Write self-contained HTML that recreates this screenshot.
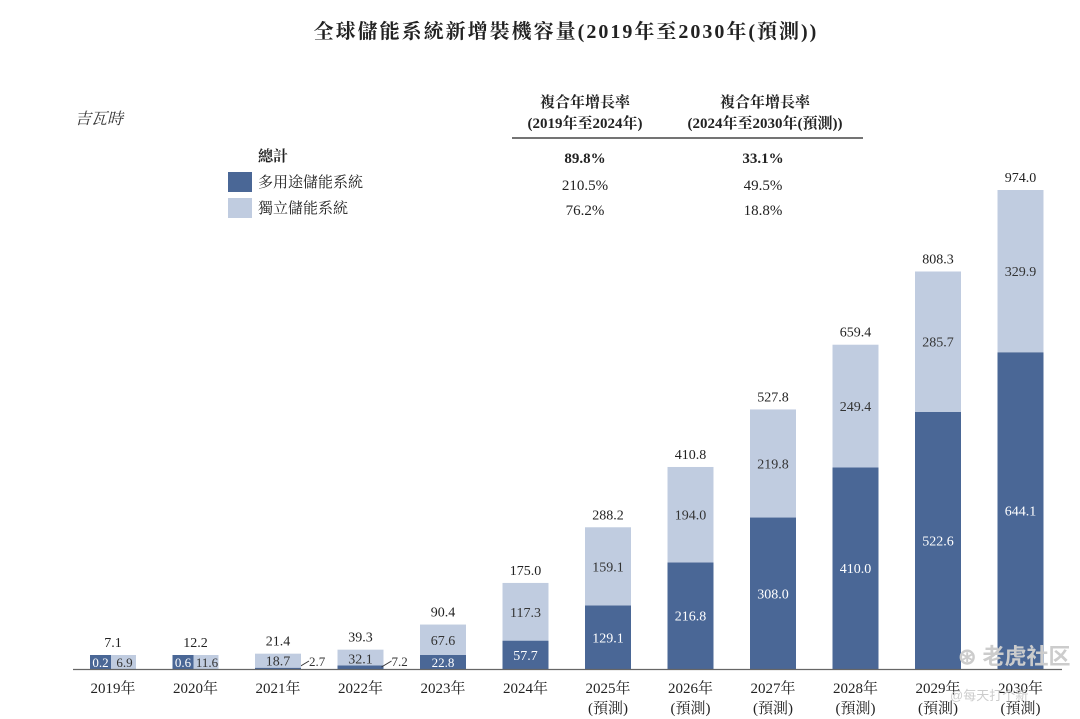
<!DOCTYPE html>
<html><head><meta charset="utf-8">
<style>
body{margin:0;background:#fff;}
svg{display:block;font-family:"Liberation Serif","Noto Serif CJK SC",serif;}
</style></head>
<body>
<svg id="c" width="1080" height="719" viewBox="0 0 1080 719">
<text x="566" y="38" text-anchor="middle" font-size="20" font-weight="bold" fill="#222" letter-spacing="2">全球儲能系統新增裝機容量(2019年至2030年(預測))</text>
<text x="75" y="124" font-size="16" font-style="italic" fill="#333">吉瓦時</text>
<g font-size="15" fill="#222" text-anchor="middle">
<text x="585" y="107" font-weight="bold">複合年增長率</text>
<text x="585" y="128" font-weight="bold">(2019年至2024年)</text>
<text x="765" y="107" font-weight="bold">複合年增長率</text>
<text x="765" y="128" font-weight="bold">(2024年至2030年(預測))</text>
<line x1="512" y1="138" x2="863" y2="138" stroke="#222" stroke-width="1.3"/>
<text x="585" y="163" font-weight="bold">89.8%</text>
<text x="763" y="163" font-weight="bold">33.1%</text>
<text x="585" y="190">210.5%</text>
<text x="763" y="190">49.5%</text>
<text x="585" y="215">76.2%</text>
<text x="763" y="215">18.8%</text>
</g>
<g font-size="15" fill="#222">
<text x="258" y="161" font-weight="bold">總計</text>
<rect x="228" y="172" width="24" height="20" fill="#4a6796"/>
<text x="258" y="187">多用途儲能系統</text>
<rect x="228" y="198" width="24" height="20" fill="#c0cce0"/>
<text x="258" y="213">獨立儲能系統</text>
</g>
<g id="bars"></g>
<line x1="73" y1="669.5" x2="1062" y2="669.5" stroke="#666" stroke-width="1.2"/>
<g id="xl"></g>
<text x="958" y="664" font-size="22" fill="#ccc" font-family="Liberation Sans,Noto Sans CJK SC,sans-serif" font-weight="bold">⊛ 老虎社区</text>
<text x="950" y="700" font-size="13" fill="#ccc" font-family="Liberation Sans,Noto Sans CJK SC,sans-serif">@每天打个新</text>
</svg>
<script>
const years=["2019年","2020年","2021年","2022年","2023年","2024年","2025年","2026年","2027年","2028年","2029年","2030年"];
const forecast=[false,false,false,false,false,false,true,true,true,true,true,true];
const multi=[0.2,0.6,2.7,7.2,22.8,57.7,129.1,216.8,308.0,410.0,522.6,644.1];
const standalone=[6.9,11.6,18.7,32.1,67.6,117.3,159.1,194.0,219.8,249.4,285.7,329.9];
const totals=[7.1,12.2,21.4,39.3,90.4,175.0,288.2,410.8,527.8,659.4,808.3,974.0];
const NS="http://www.w3.org/2000/svg";
const base=669, k=479/974, x0=113, step=82.5, bw=46;
const X=i=>x0+i*step, Y=v=>base-v*k;
const g=document.getElementById('bars'), xl=document.getElementById('xl');
function mk(tag,attrs,parent){const e=document.createElementNS(NS,tag);for(const a in attrs)e.setAttribute(a,attrs[a]);parent.appendChild(e);return e;}
function txt(x,y,s,fill,parent,size){const t=mk('text',{x:x,y:y,'text-anchor':'middle','font-size':size||14,fill:fill},parent);t.textContent=s;return t;}
years.forEach((yr,i)=>{
  const cx=X(i), l=cx-bw/2;
  const yM=Y(multi[i]), yT=Y(multi[i]+standalone[i]);
  const rm=mk('rect',{x:l,y:yM,width:bw,height:base-yM,fill:'#4a6796'},g);
  
  
  const rs=mk('rect',{x:l,y:yT,width:bw,height:yM-yT,fill:'#c0cce0'},g);
  
  
  const hm=base-yM, hs=yM-yT, ht=base-yT;
  let topY=yT;
  if(ht<8){
    const b1=mk('rect',{x:l,y:base-14,width:bw/2-2,height:14,fill:'#4a6796'},g);
    
    const b2=mk('rect',{x:cx-2,y:base-14,width:bw/2+2,height:14,fill:'#c0cce0'},g);
    
    txt(l+(bw/2-2)/2,base-2,multi[i].toFixed(1),'#fff',g,13);
    txt(cx+bw/4,base-2,standalone[i].toFixed(1),'#333',g,13);
    topY=base-14;
  } else {
    let lblTop=yM;
    if(hm<5){
      mk('path',{d:`M${l+bw-2} ${base-2} L${l+bw+8} ${base-8}`,stroke:'#333','stroke-width':1,fill:'none'},g);
      const t=mk('text',{x:l+bw+8,y:base-3,'font-size':13,fill:'#333'},g);t.textContent=multi[i].toFixed(1);
    } else if(hm<14){
      const b=mk('rect',{x:l,y:base-14,width:bw,height:14,fill:'#4a6796'},g);
      
      txt(cx,base-2,multi[i].toFixed(1),'#fff',g,13);
      lblTop=Math.min(yM,base-14);
    } else {
      txt(cx,(yM+base)/2+5,multi[i].toFixed(1),'#fff',g,14);
    }
    if(hs<16){
      const b=mk('rect',{x:l,y:lblTop-14,width:bw,height:14,fill:'#c0cce0'},g);
      
      txt(cx,lblTop-2,standalone[i].toFixed(1),'#333',g,14);
      topY=Math.min(yT,lblTop-14);
    } else txt(cx,(yT+lblTop)/2+5,standalone[i].toFixed(1),'#333',g,14);
  }
  txt(cx,topY-8,totals[i].toFixed(1),'#222',g,14);
  const t=txt(cx,693,yr,'#222',xl,15);
  
  
  if(forecast[i]){const f=txt(cx,713,'(預測)','#222',xl,15);
    
    }
});
</script>
</body></html>
